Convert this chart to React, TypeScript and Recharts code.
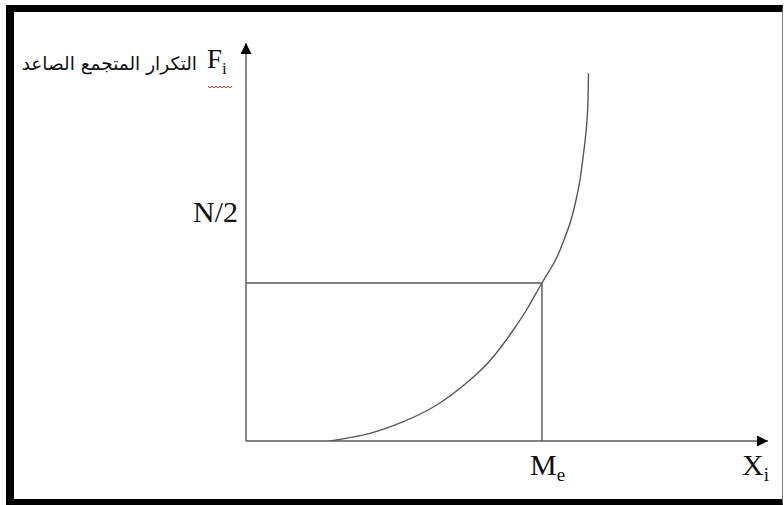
import React from "react";
import {
  ComposedChart,
  Line,
  XAxis,
  YAxis,
  ReferenceLine
} from "recharts";

// ogive (cumulative frequency)
const CURVE_X = [16.09, 23.75, 30.13, 36.53, 42.91, 47.38, 51.21, 54.02, 56.7, 59.2, 60.54, 62.07, 63.22, 63.98, 64.5, 64.98, 65.33, 65.52, 65.61];
const CURVE_Y = [0, 1.93, 4.85, 9.05, 15.33, 21.18, 27.89, 33.54, 39.7, 45.23, 49.25, 54.7, 60.55, 65.58, 70.6, 75.63, 80.65, 85.68, 92.39];

const MEDIAN_X = 56.7;
const MEDIAN_Y = 39.7;
const N_HALF_TICK = 57.5;

const X_TICKS = [MEDIAN_X, 100];
const X_TICK_LABELS = [["M", "e"], ["X", "i"]];
const Y_TICKS = [N_HALF_TICK];
const Y_TICK_LABELS = ["N/2"];
const Y_TITLE_AR = "التكرار المتجمع الصاعد";
const Y_TITLE_SYM = ["F", "i"];

const data = CURVE_X.map((x, i) => ({ x, y: CURVE_Y[i] }));

const INK = "#575757";
const SERIF = "'Liberation Serif', 'DejaVu Serif', serif";

const XTick = (props: any) => {
  const { x, y, index } = props;
  const [main, sub] = X_TICK_LABELS[index] || ["", ""];
  const dx = index === 0 ? -12 : -26;
  return (
    <text x={x + dx} y={y} fontFamily={SERIF} fontSize={30} fill="#111">
      {main}
      <tspan fontSize={19} dy={6}>{sub}</tspan>
    </text>
  );
};

const YTick = (props: any) => {
  const { x, y, index } = props;
  return (
    <text x={x} y={y + 10} textAnchor="end" fontFamily={SERIF} fontSize={30} fill="#111">
      {Y_TICK_LABELS[index]}
    </text>
  );
};

const YTitle = () => (
  <g>
    <text
      x={197}
      y={70}
      textAnchor="end"
      fontFamily="'DejaVu Sans', sans-serif"
      fontSize={18.5}
      fill="#111"
    >
      {Y_TITLE_AR}
    </text>
    <text x={207} y={68} fontFamily={SERIF} fontSize={27} fill="#111">
      {Y_TITLE_SYM[0]}
      <tspan fontSize={17} dy={6}>{Y_TITLE_SYM[1]}</tspan>
    </text>
    <path d="M208,86 l2,2 l2,-2 l2,2 l2,-2 l2,2 l2,-2 l2,2 l2,-2 l2,2 l2,-2 l2,2 l2,-2" fill="none" stroke="#e03030" strokeWidth={1} />
  </g>
);

export default function App() {
  return (
    <div style={{ position: "relative", width: 784, height: 505, overflow: "hidden", background: "#fff" }}>
      <style>{`body{margin:0}`}</style>
      <svg width={0} height={0} style={{ position: "absolute" }}>
        <defs>
          <marker id="arrowHead" viewBox="0 0 10 10" refX={10} refY={5} markerWidth={11} markerHeight={11} markerUnits="userSpaceOnUse" orient="auto-start-reverse">
            <path d="M0,0 L10,5 L0,10 z" fill="#000" />
          </marker>
        </defs>
      </svg>
      <div style={{ position: "absolute", left: 0, top: 0 }}>
        <ComposedChart width={784} height={505} data={data} margin={{ top: 43, right: 16, bottom: 0, left: 0 }}>
          <XAxis
            dataKey="x"
            type="number"
            domain={[0, 100]}
            ticks={X_TICKS}
            interval={0}
            height={64}
            tickLine={false}
            tickSize={0}
            tickMargin={34}
            tick={<XTick />}
            axisLine={{ stroke: INK, strokeWidth: 1.4, markerEnd: "url(#arrowHead)" }}
            allowDataOverflow
          />
          <YAxis
            type="number"
            domain={[0, 100]}
            ticks={Y_TICKS}
            interval={0}
            width={246}
            tickLine={false}
            tickSize={0}
            tickMargin={8}
            tick={<YTick />}
            axisLine={{ stroke: INK, strokeWidth: 1.4, markerStart: "url(#arrowHead)" }}
            allowDataOverflow
          />
          <ReferenceLine segment={[{ x: 0, y: MEDIAN_Y }, { x: MEDIAN_X, y: MEDIAN_Y }]} stroke={INK} strokeWidth={1.4} />
          <ReferenceLine segment={[{ x: MEDIAN_X, y: 0 }, { x: MEDIAN_X, y: MEDIAN_Y }]} stroke={INK} strokeWidth={1.4} />
          <Line
            dataKey="y"
            type="natural"
            stroke={INK}
            strokeWidth={1.4}
            dot={false}
            activeDot={false}
            isAnimationActive={false}
          />
        </ComposedChart>
      </div>
      <svg width={784} height={505} style={{ position: "absolute", left: 0, top: 0, pointerEvents: "none" }}>
        <YTitle />
      </svg>
      <div
        style={{
          position: "absolute",
          left: 6,
          top: 5,
          width: 768,
          height: 487,
          borderTop: "7px solid #000",
          borderLeft: "8px solid #000",
          borderBottom: "8px solid #000",
          borderRight: "1px solid #888",
          pointerEvents: "none"
        }}
      />
    </div>
  );
}
